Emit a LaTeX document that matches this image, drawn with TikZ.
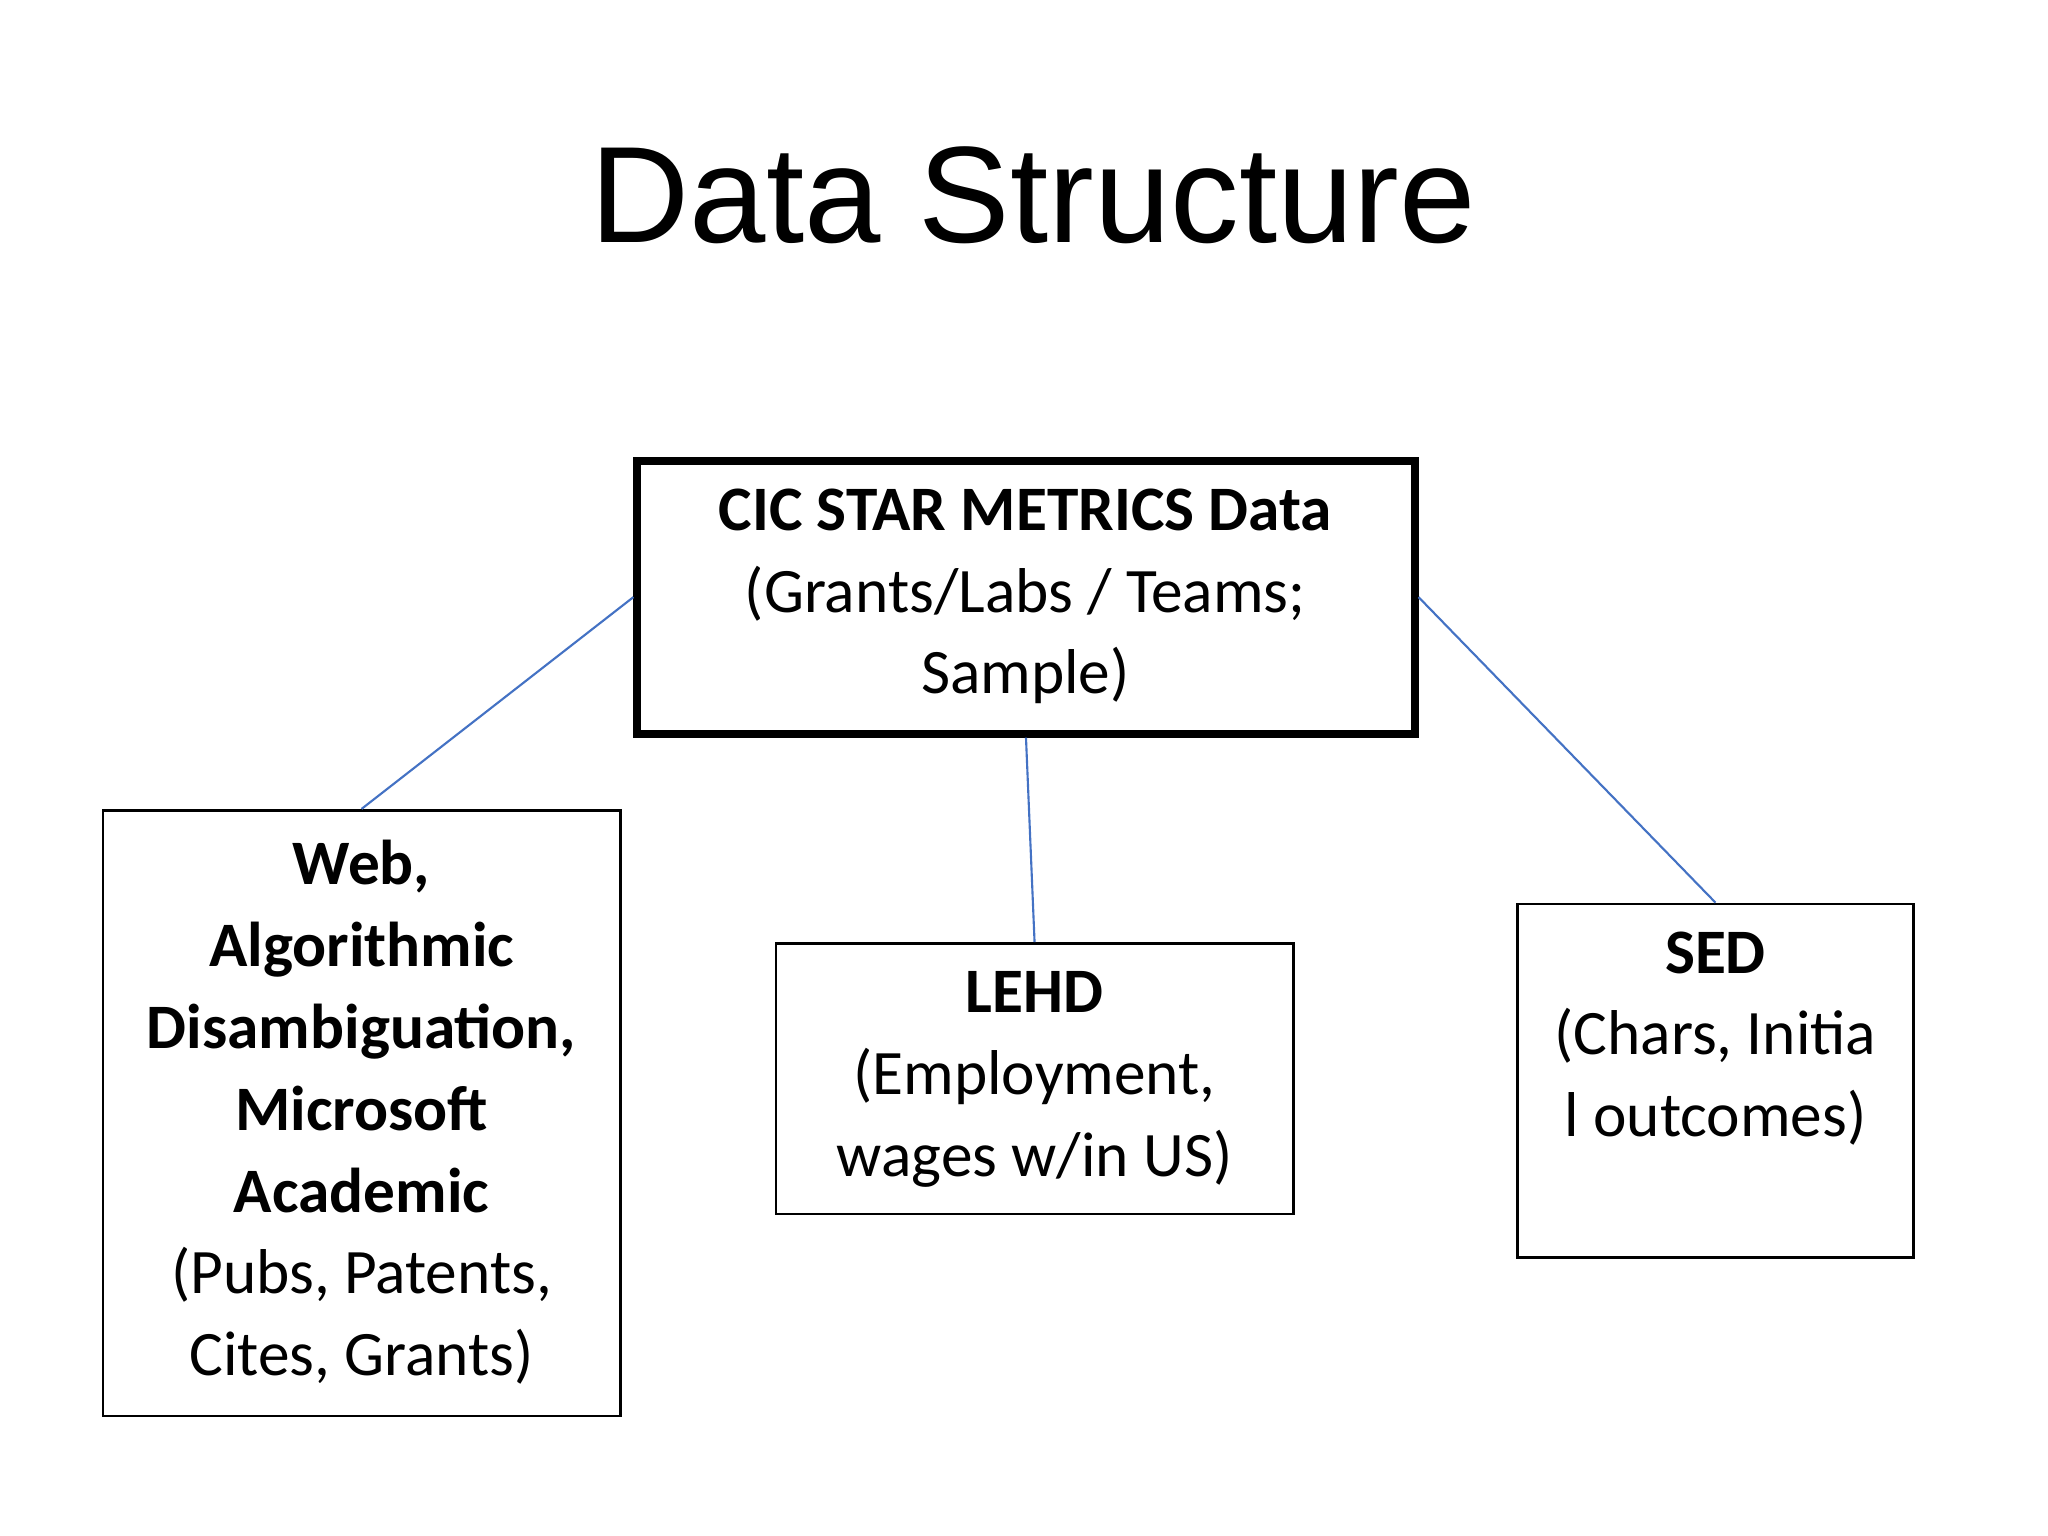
\documentclass[tikz,border=0pt]{standalone}
\usepackage{fontspec}
\setmainfont{Carlito}
\newfontfamily\titlefont{Liberation Sans}
\begin{document}
\begin{tikzpicture}[x=1pt,y=-1pt,
  box/.style={draw=black,line width=2pt,rectangle,inner sep=0pt},
  txt/.style={align=center,font=\fontsize{48}{62}\selectfont,inner sep=0pt},
  conn/.style={draw={rgb,255:red,68;green,114;blue,196},line width=1.6pt}]
\useasboundingbox (0,0) rectangle (1552,1164);
\fill[white] (0,0) rectangle (1552,1164);
\node[font=\titlefont\fontsize{104}{120}\selectfont] (title) at (783,148) {Data Structure};
\node[box,line width=6pt,minimum width=589pt,minimum height=207pt] (top) at (777.5,452.5) {};
\node[box,minimum width=392pt,minimum height=459pt] (left) at (274,843.5) {};
\node[box,minimum width=392pt,minimum height=205pt] (mid) at (784,817.5) {};
\node[box,minimum width=300pt,minimum height=268pt] (right) at (1300,819) {};
\node[txt] (toptxt) at (777,452) {\textbf{CIC STAR METRICS Data}\\(Grants/Labs / Teams;\\Sample)};
\node[txt] (lefttxt) at (274,843) {\textbf{Web,}\\\textbf{Algorithmic}\\\textbf{Disambiguation,}\\\textbf{Microsoft}\\\textbf{Academic}\\(Pubs, Patents,\\Cites, Grants)};
\node[txt] (midtxt) at (784,818) {\textbf{LEHD}\\(Employment,\\wages w/in US)};
\node[txt] (righttxt) at (1300,787) {\textbf{SED}\\(Chars, Initia\\l outcomes)};
\draw[conn] (top.west) -- (left.north);
\draw[conn] (top.south) -- (mid.north);
\draw[conn] (top.east) -- (right.north);
\end{tikzpicture}
\end{document}
